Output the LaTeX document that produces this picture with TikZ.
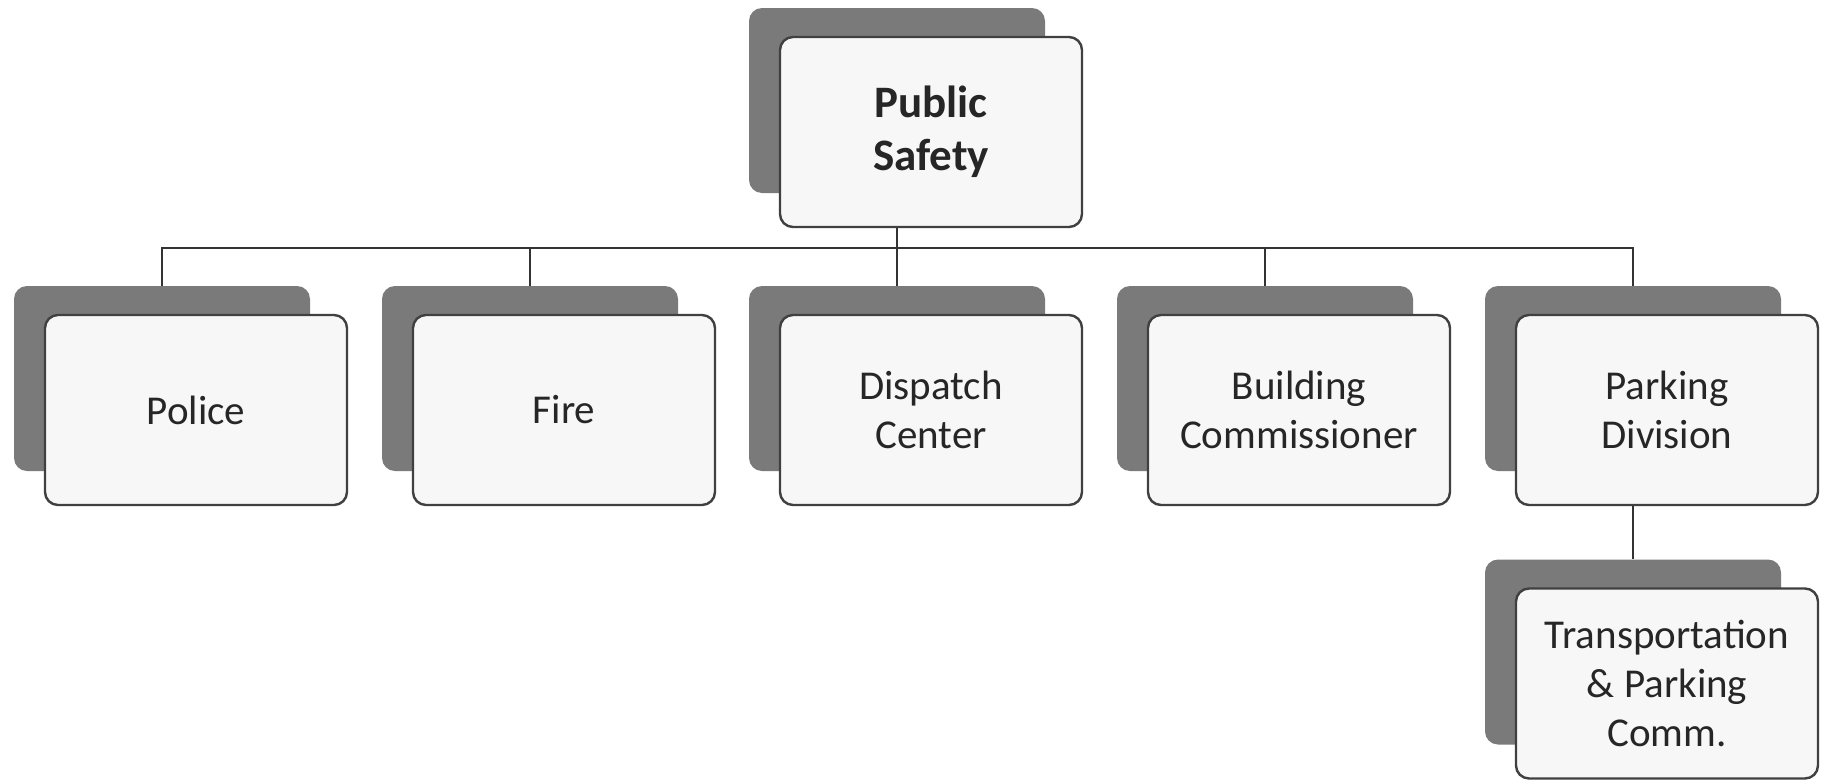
\documentclass[tikz,border=0pt]{standalone}
\usepackage{fontspec}
\setmainfont{Carlito}
\usetikzlibrary{backgrounds}

\begin{document}
\begin{tikzpicture}[x=0.5pt,y=-0.5pt]
    \tikzset{back box/.style={fill=black!52, rounded corners=6.5pt, minimum width=148pt, minimum height=92.5pt, inner sep=0pt},
        front box/.style={draw=black!75, line width=1.2pt, fill=black!3, rounded corners=6.5pt, minimum width=151pt, minimum height=95pt, align=center, text=black!85, inner sep=0pt, font=\fontsize{20.5}{24.5}\selectfont},
        link/.style={draw=black!80, line width=1pt}}
    \useasboundingbox (0,0) rectangle (1827,782);
    \coordinate (bus) at (0,248);
    \node[back box] (safety) at (897,100.5) {};
    \node[front box, font=\bfseries\fontsize{22.5}{26.5}\selectfont] (safety front) at ([shift={(34,31.5)}]safety) {Public\\Safety};
    \begin{pgfonlayer}{background}
        \fill[white] (0,0) rectangle (1827,782);
    \end{pgfonlayer}
    \foreach \name/\x/\txt in {police/162/Police, fire/530/Fire, dispatch/897/{Dispatch\\Center}, building/1265/{Building\\Commissioner}, parking/1633/{Parking\\Division}} {
        \node[back box] (\name) at (\x,378.5) {};
        \node[front box] (\name front) at ([shift={(34,31.5)}]\name) {\txt};
        \begin{pgfonlayer}{background}
            \draw[link] (safety.south) -- (safety.south |- bus) -| (\name.north);
        \end{pgfonlayer}
    }
    \node[back box] (transport) at (1633,652) {};
    \node[front box] (transport front) at ([shift={(34,31.5)}]transport) {Transportation\\\& Parking\\Comm.};
    \begin{pgfonlayer}{background}
        \draw[link] (parking.south) -- (transport.north);
    \end{pgfonlayer}
\end{tikzpicture}
\end{document}
